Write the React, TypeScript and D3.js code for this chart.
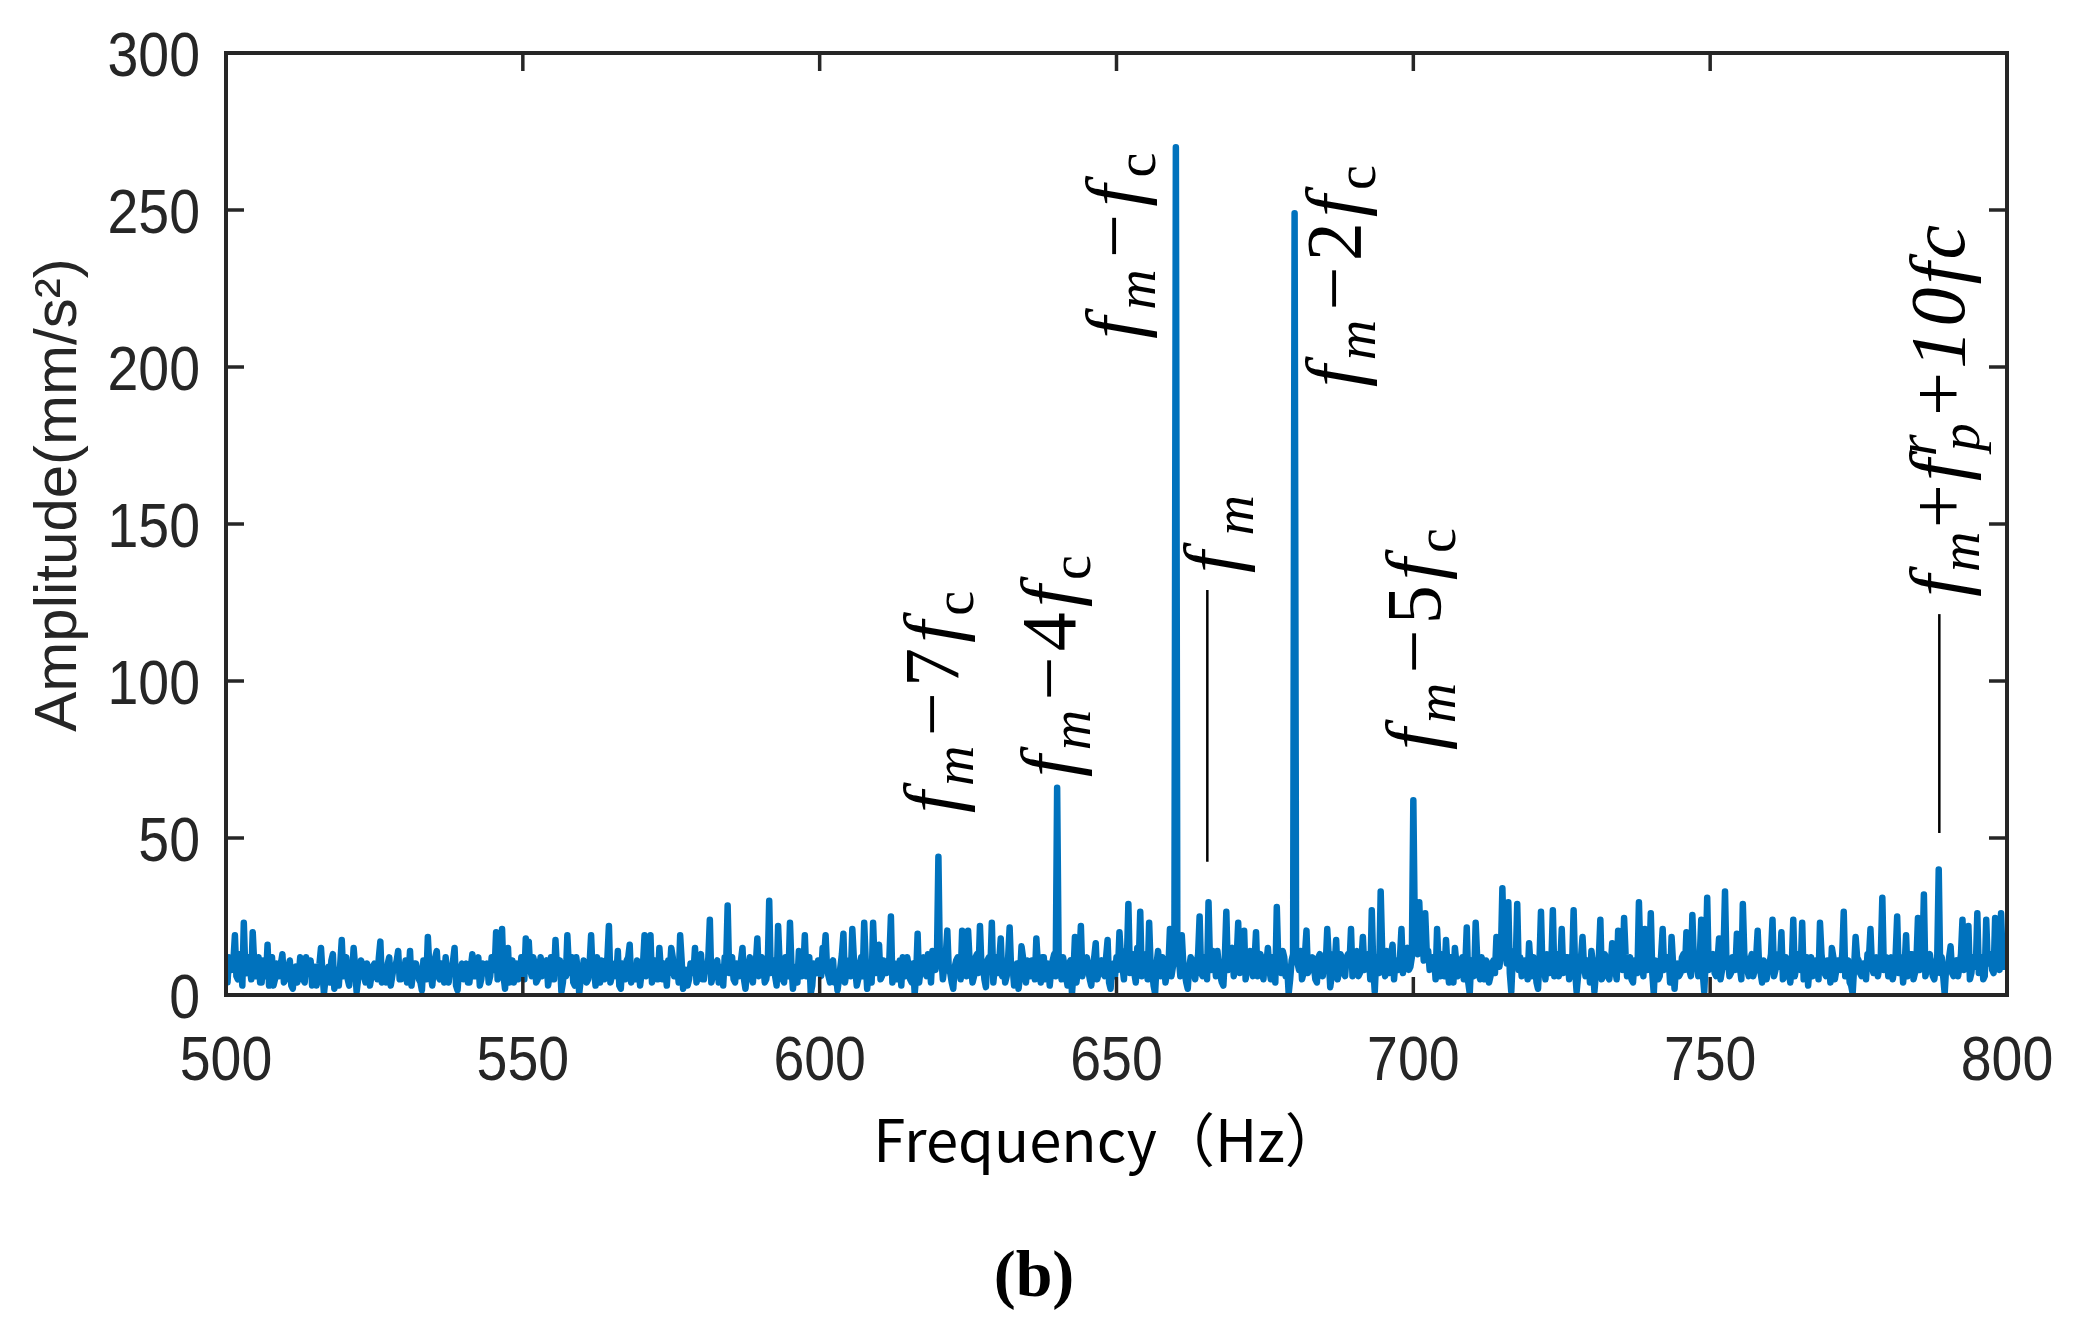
import React from 'react';
import * as d3 from 'd3';

const W = 2080;
const H = 1320;

const xTicks = [500, 550, 600, 650, 700, 750, 800];
const yTicks = [0, 50, 100, 150, 200, 250, 300];

// sampling grid of the spectrum (Hz): samples on the half-Hz grid,
// plus the in-between samples (quarter-Hz offsets) read separately
const FREQ_START = 500;
const FREQ_STEP = 0.25;

// amplitude (mm/s^2) at 500, 500.5, 501, ... Hz
const amp500 = [
  6, 12, 8, 19, 5, 10, 23, 7, 9, 20, 6, 12, 4, 9, 16, 8, 3, 10, 6, 13,
  5, 9, 3, 8, 4, 12, 5, 12, 7, 3, 9, 6, 15, 0.5, 7, 4, 13, 6, 3, 17.5,
  8, 5, 10, 15, 1, 7, 9.5, 4, 8, 6, 10, 5, 17, 8, 4, 12, 6, 9, 14, 5,
  8, 4, 14, 7, 10, 5, 1.5, 9, 18.5, 6, 9, 14, 5, 8, 12, 4, 7, 15, 1.5, 8,
  5, 10, 4, 13, 6, 12, 5, 8, 10, 6, 12, 20, 9, 21, 2, 15, 7, 4, 10, 6,
];
const amp550 = [
  9, 18, 17, 6, 10, 5, 12, 7, 11, 6, 9, 17.5, 8, 1, 10, 19, 7, 4, 12, 0.5,
  6, 9, 5, 19, 8, 12, 4, 7, 9, 22, 6, 10, 14, 2, 8, 11, 16, 7, 5, 9,
  7, 19, 10, 19, 6, 9, 15, 5, 8, 11, 15, 6, 9, 19, 2, 8, 5, 10, 15, 6,
  13, 5, 8, 24, 6, 10, 4, 9, 12, 28.5, 7, 5, 10, 6, 15, 2, 9, 6, 11, 18,
  7, 10, 5, 30, 9, 6, 22, 8, 4, 11, 23, 2, 9, 14, 6, 19, 8, 0.5, 10, 7,
];
const amp600 = [
  9, 15, 19, 6, 10, 4, 1.5, 9, 19.5, 7, 11, 21, 8, 5, 12, 23, 2, 10, 23, 7,
  16, 6, 10, 8, 25, 9, 5, 11, 12, 6, 9, 4, 0.5, 19.5, 8, 12, 6, 10, 14, 8,
  44, 12, 9, 20.5, 7, 2, 11, 8, 20.5, 12, 20.5, 9, 6, 13, 22, 10, 2.5, 12, 23, 9,
  7, 18, 10, 6, 21.5, 9, 5, 2, 15.5, 8, 11, 6, 9, 18, 7, 12, 5, 10, 8, 13,
  66, 9, 12, 6, 10, 0.5, 18.5, 8, 22, 9, 12, 5, 9, 16.5, 7, 11, 6, 17.5, 2, 10,
];
const amp650 = [
  12, 20, 9, 14, 29, 10, 7, 15, 26.5, 9, 13, 23, 8, 0.5, 14, 6, 11, 7, 21, 9,
  270, 12, 19, 7, 2, 12, 8, 10, 25, 6, 11, 29.5, 8, 12, 14, 6, 3, 26.5, 11, 15,
  9, 23, 12, 20.5, 8, 14, 6, 20, 11, 7, 12, 15, 5, 10, 28, 9, 14, 6, 0.5, 11,
  249, 10, 14, 7, 20.5, 9, 12, 5, 12, 8, 11, 21, 2.5, 13, 17.5, 8, 11, 6, 13, 21,
  9, 14, 7, 18.5, 11, 13, 27, 1, 12, 33, 10, 14, 7, 16, 11, 8, 21, 12, 15, 9,
];
const amp700 = [
  62, 18, 29.5, 20, 26, 14, 9, 12, 21, 6, 10, 17.5, 4, 9, 15, 6, 10, 5, 21.5, 0.5,
  9, 23, 7, 12, 5, 10, 6, 11, 18.5, 9, 34, 17, 29.5, 1, 14, 29, 12, 8, 11, 16.5,
  6, 10, 2, 26.5, 9, 13, 7, 27, 10, 6, 21, 8, 12, 9, 27, 1, 10, 18.5, 6, 11,
  14, 1, 9, 24, 7, 11, 5, 16.5, 8, 20.5, 10, 24.5, 6, 12, 4, 9, 29.5, 11, 21, 8,
  26, 0.5, 10, 6, 21, 9, 12, 18.5, 2, 10, 7, 13, 20, 8, 25.5, 11, 6, 24, 1, 31,
];
const amp750 = [
  9, 13, 6, 18, 8, 33, 11, 7, 12, 19.5, 9, 29, 10, 6, 13, 8, 20.5, 7, 11, 5,
  10, 24, 8, 13, 20, 6, 11, 4, 24, 9, 12, 23, 7, 3, 12, 8, 11, 23, 9, 6,
  10, 15, 5, 11, 8, 26.5, 9, 4, 0.5, 18.5, 11, 6, 10, 13, 21, 7, 12, 9, 31, 10,
  6, 12, 8, 25, 10, 4, 19, 9, 13, 7, 24.5, 11, 32, 8, 13, 6, 9, 40, 12, 0.5,
  8, 15.5, 6, 11, 9, 24, 10, 22, 7, 12, 26, 9, 5, 24, 11, 8, 24.5, 10, 26, 9, 13,
];

// in-between samples at 500.25, 500.75, 501.25, ... Hz
const mid500 = [
  4, 9, 11, 6, 13, 3, 8, 12, 5, 10, 9, 4, 11, 6, 3, 12, 5, 8, 10, 4,
  7, 11, 2, 9, 6, 10, 4, 8, 11, 5, 3, 10, 7, 5, 9, 11, 2, 8, 10, 6,
  12, 3, 7, 9, 5, 11, 6, 10, 3, 9, 7, 12, 4, 6, 10, 3, 9, 11, 5, 8,
  11, 6, 3, 10, 8, 4, 11, 5, 9, 3, 12, 6, 10, 4, 7, 9, 11, 3, 8, 10,
  7, 4, 9, 6, 11, 3, 10, 7, 4, 12, 8, 5, 11, 6, 9, 4, 11, 8, 5, 12,
];
const mid550 = [
  5, 11, 8, 12, 4, 9, 6, 10, 3, 12, 5, 8, 11, 4, 6, 9, 12, 3, 8, 5,
  11, 4, 10, 7, 3, 9, 11, 5, 12, 4, 8, 6, 3, 10, 5, 12, 4, 9, 11, 3,
  10, 6, 12, 4, 11, 5, 8, 10, 3, 7, 12, 9, 4, 11, 6, 3, 10, 7, 4, 12,
  5, 9, 12, 4, 8, 11, 6, 3, 10, 7, 12, 4, 9, 11, 5, 7, 12, 4, 10, 6,
  12, 4, 9, 7, 11, 3, 10, 5, 12, 6, 9, 7, 4, 11, 8, 6, 12, 3, 8, 11,
];
const mid600 = [
  6, 12, 8, 4, 11, 7, 5, 13, 4, 10, 6, 12, 3, 9, 6, 11, 7, 4, 10, 13,
  5, 11, 7, 12, 4, 10, 6, 3, 9, 12, 5, 10, 6, 4, 11, 7, 13, 4, 9, 11,
  10, 5, 13, 8, 4, 9, 12, 5, 10, 6, 11, 4, 12, 7, 9, 5, 11, 8, 4, 12,
  11, 6, 4, 12, 8, 3, 10, 6, 12, 4, 9, 11, 5, 10, 4, 12, 7, 3, 11, 6,
  12, 5, 9, 3, 11, 7, 4, 12, 6, 10, 8, 3, 12, 5, 10, 7, 12, 4, 9, 6,
];
const mid650 = [
  8, 12, 5, 11, 7, 13, 4, 10, 6, 12, 5, 9, 3, 10, 8, 12, 4, 9, 6, 11,
  13, 6, 10, 4, 9, 11, 5, 13, 7, 12, 5, 10, 14, 6, 9, 4, 12, 8, 13, 6,
  12, 7, 10, 5, 13, 9, 11, 6, 13, 5, 10, 8, 12, 4, 11, 7, 12, 9, 5, 13,
  12, 8, 5, 13, 7, 11, 9, 4, 13, 6, 10, 12, 6, 9, 5, 13, 7, 12, 10, 6,
  12, 6, 11, 8, 13, 5, 9, 12, 7, 14, 6, 11, 13, 5, 10, 12, 7, 13, 8, 12,
];
const mid700 = [
  20, 13, 16, 11, 14, 8, 12, 5, 10, 13, 6, 9, 12, 4, 10, 7, 12, 9, 4, 11,
  6, 12, 5, 9, 11, 4, 10, 7, 12, 13, 14, 10, 7, 12, 10, 8, 6, 11, 5, 9,
  12, 4, 11, 8, 5, 12, 10, 6, 13, 9, 7, 12, 5, 10, 8, 6, 12, 9, 11, 4,
  10, 7, 12, 5, 13, 6, 9, 12, 5, 11, 8, 13, 9, 5, 11, 7, 12, 6, 13, 10,
  7, 11, 5, 13, 8, 12, 4, 10, 9, 6, 12, 8, 13, 6, 11, 9, 12, 7, 11, 8,
];
const mid750 = [
  12, 7, 11, 5, 13, 9, 6, 12, 8, 11, 5, 13, 8, 11, 6, 12, 9, 4, 10, 8,
  13, 6, 11, 9, 5, 12, 7, 10, 6, 13, 8, 5, 12, 9, 6, 11, 5, 13, 7, 11,
  4, 12, 8, 10, 13, 6, 11, 3, 9, 12, 7, 10, 5, 12, 9, 11, 6, 13, 8, 12,
  11, 5, 13, 7, 12, 9, 6, 13, 5, 11, 8, 12, 6, 11, 9, 5, 12, 7, 6, 9,
  12, 7, 10, 6, 13, 8, 11, 5, 12, 9, 7, 12, 6, 10, 13, 7, 11, 8, 12, 10,
];

const halfGrid = [...amp500, ...amp550, ...amp600, ...amp650, ...amp700, ...amp750];
const quarterGrid = [...mid500, ...mid550, ...mid600, ...mid650, ...mid700, ...mid750];
const amplitude: number[] = [];
halfGrid.forEach((v, i) => {
  amplitude.push(v);
  if (i < quarterGrid.length) amplitude.push(quarterGrid[i]);
});

// annotation anchors (Hz, mm/s^2): where each rotated label starts
const labelFreq = [623.3, 643.0, 654.0, 670.5, 691.1, 704.5, 792.8];
const labelAmp = [58, 69.4, 209, 134.4, 193.6, 78, 126.8];
const labelNames = ['fm-7fc', 'fm-4fc', 'fm-fc', 'fm', 'fm-2fc', 'fm-5fc', 'fm+fpr+10fc'];

// thin pointer lines (Hz, from amp, to amp)
const pointerFreq = [665.3, 788.6];
const pointerTop = [129, 121.3];
const pointerBottom = [42.4, 51.6];

const AXIS = '#262626';
const BLUE = '#0072BD';

const MATH = "'Liberation Serif', 'DejaVu Serif', serif";
const MS = 78; // main math size
const SS = 56; // sub size
const SD = 15; // sub shift

function mathParts(name: string) {
  const sub = (t: string, key: string) => (
    <tspan key={key} fontStyle="italic" fontSize={SS} dy={SD}>{t}</tspan>
  );
  const fm = [
    <tspan key="f1" fontStyle="italic">f</tspan>,
    sub('m', 'm1'),
  ];
  const minusFc = (digit: string) => [
    <tspan key="mn" dy={-SD} dx={4}>{'\u2212'}{digit}</tspan>,
    <tspan key="f2" fontStyle="italic">f</tspan>,
    <tspan key="c" fontSize={SS} dy={SD}>c</tspan>,
  ];
  switch (name) {
    case 'fm-7fc': return [...fm, ...minusFc('7')];
    case 'fm-4fc': return [...fm, ...minusFc('4')];
    case 'fm-fc': return [...fm, ...minusFc('')];
    case 'fm-2fc': return [...fm, ...minusFc('2')];
    case 'fm-5fc': return [...fm, ...minusFc('5')];
    case 'fm': return fm;
    default:
      return [
        ...fm,
        <tspan key="p1" dy={-SD}>+</tspan>,
        <tspan key="f3" fontStyle="italic">f</tspan>,
        <tspan key="r" fontStyle="italic" fontSize={SS} dy={-28}>r</tspan>,
        <tspan key="p" fontStyle="italic" fontSize={SS} dx={-20} dy={28 + SD}>p</tspan>,
        <tspan key="p2" dy={-SD} dx={4}>+</tspan>,
        <tspan key="ten" fontStyle="italic">10</tspan>,
        <tspan key="f4" fontStyle="italic">f</tspan>,
        <tspan key="c4" fontStyle="italic">c</tspan>,
      ];
  }
}

const labelLen: Record<string, number> = {
  'fm-7fc': 222, 'fm-4fc': 222, 'fm-fc': 186, 'fm': 78, 'fm-2fc': 222, 'fm-5fc': 222, 'fm+fpr+10fc': 372,
};

export default function App() {
  const left = 226, right = 2007, top = 53, bottom = 995;
  const x = d3.scaleLinear().domain([500, 800]).range([left, right]);
  const y = d3.scaleLinear().domain([0, 300]).range([bottom, top]);
  const line = d3
    .line<number>()
    .x((_, i) => x(FREQ_START + i * FREQ_STEP))
    .y((d) => y(d));
  const tickLen = 18;
  const tickFont = "'Liberation Sans', Arial, Helvetica, sans-serif";

  return (
    <svg
      width={W}
      height={H}
      viewBox={`0 0 ${W} ${H}`}
      style={{ position: 'absolute', left: 0, top: 0, background: '#fff' }}
    >
      <rect x={0} y={0} width={W} height={H} fill="#fff" />
      <defs>
        <clipPath id="plotClip">
          <rect x={left} y={top} width={right - left} height={bottom - top} />
        </clipPath>
      </defs>

      {/* spectrum */}
      <path
        d={line(amplitude) || ''}
        fill="none"
        stroke={BLUE}
        strokeWidth={6.5}
        strokeLinejoin="round"
        clipPath="url(#plotClip)"
      />

      {/* frame */}
      <rect x={left} y={top} width={right - left} height={bottom - top} fill="none" stroke={AXIS} strokeWidth={4} />

      {/* ticks */}
      {xTicks.map((t) => (
        <g key={`xt${t}`}>
          <line x1={x(t)} x2={x(t)} y1={bottom} y2={bottom - tickLen} stroke={AXIS} strokeWidth={3.5} />
          <line x1={x(t)} x2={x(t)} y1={top} y2={top + tickLen} stroke={AXIS} strokeWidth={3.5} />
          <text
            transform={`translate(${x(t)},1080) scale(0.88,1)`}
            textAnchor="middle"
            fontFamily={tickFont}
            fontSize={63}
            fill={AXIS}
          >
            {t}
          </text>
        </g>
      ))}
      {yTicks.map((t) => (
        <g key={`yt${t}`}>
          <line x1={left} x2={left + tickLen} y1={y(t)} y2={y(t)} stroke={AXIS} strokeWidth={3.5} />
          <line x1={right} x2={right - tickLen} y1={y(t)} y2={y(t)} stroke={AXIS} strokeWidth={3.5} />
          <text
            transform={`translate(200,${y(t) + 23}) scale(0.88,1)`}
            textAnchor="end"
            fontFamily={tickFont}
            fontSize={63}
            fill={AXIS}
          >
            {t}
          </text>
        </g>
      ))}

      {/* axis titles */}
      <text
        transform="translate(76,495) rotate(-90)"
        textAnchor="middle"
        fontFamily={tickFont}
        fontSize={60}
        fill={AXIS}
      >
        Amplitude(mm/s²)
      </text>
      <text
        x={1108}
        y={1162}
        textAnchor="middle"
        fontFamily="'Noto Sans CJK SC', 'Noto Sans', sans-serif"
        fontSize={58}
        fill="#000"
      >
        Frequency（Hz）
      </text>
      <text
        x={1034}
        y={1296}
        textAnchor="middle"
        fontFamily="'Liberation Serif', 'Times New Roman', serif"
        fontWeight="bold"
        fontSize={66}
        fill="#000"
      >
        (b)
      </text>

      {/* pointer lines */}
      {pointerFreq.map((f, i) => (
        <line
          key={`pl${i}`}
          x1={x(f)}
          x2={x(f)}
          y1={y(pointerTop[i])}
          y2={y(pointerBottom[i])}
          stroke="#000"
          strokeWidth={2.5}
        />
      ))}

      {/* annotations */}
      {labelNames.map((n, i) => (
        <text
          key={n}
          transform={`translate(${x(labelFreq[i])},${y(labelAmp[i])}) rotate(-90)`}
          fontFamily={MATH}
          fontSize={MS}
          fill="#000"
          textLength={labelLen[n]}
          lengthAdjust="spacing"
        >
          {mathParts(n)}
        </text>
      ))}
    </svg>
  );
}
